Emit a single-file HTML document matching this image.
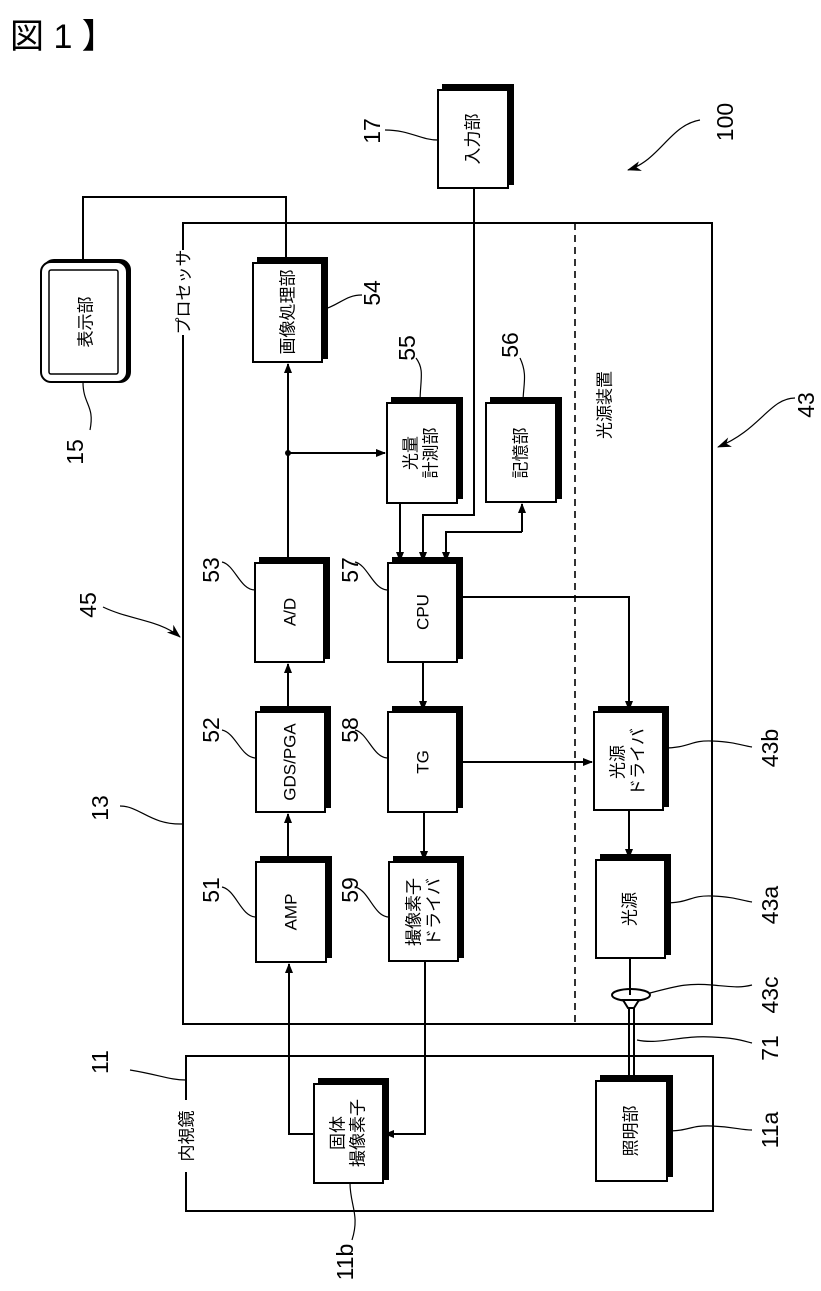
<!DOCTYPE html>
<html><head><meta charset="utf-8"><style>
html,body{margin:0;padding:0;background:#fff;}
svg{display:block;}
text{font-family:"Liberation Sans","Noto Sans CJK JP",sans-serif;fill:#000;}
.b{font-size:17px;}
.n{font-size:23px;}
</style></head><body>
<svg width="821" height="1291" viewBox="0 0 821 1291" xmlns="http://www.w3.org/2000/svg">
<defs>
<marker id="a" markerWidth="10" markerHeight="10" refX="9" refY="5" orient="auto" markerUnits="userSpaceOnUse">
<path d="M0,1 L10,5 L0,9 Z" fill="#000"/></marker>
<marker id="c" markerWidth="14" markerHeight="10" refX="13" refY="5" orient="auto" markerUnits="userSpaceOnUse">
<path d="M0,0 L14,5 L0,10 L4,5 Z" fill="#000"/></marker>
</defs>
<text x="10" y="48" style="font-size:34px">図 1 】</text>

<g fill="none" stroke="#000" stroke-width="2">
<path d="M183,250 L183,223 L712,223 L712,1024 L183,1024 L183,335"/>
<line x1="575" y1="223" x2="575" y2="1024" stroke-dasharray="7,5" stroke-width="1.6"/>
<path d="M186,1100 L186,1056 L713,1056 L713,1211 L186,1211 L186,1172"/>
</g>

<g stroke="#000" stroke-width="2">
<rect x="258" y="258" width="69" height="100" fill="#000"/><rect x="253" y="263" width="69" height="99" fill="#fff"/>
<rect x="260" y="558" width="69" height="100" fill="#000"/><rect x="255" y="563" width="69" height="99" fill="#fff"/>
<rect x="261" y="707" width="69" height="100" fill="#000"/><rect x="256" y="712" width="69" height="100" fill="#fff"/>
<rect x="261" y="857" width="70" height="100" fill="#000"/><rect x="256" y="862" width="70" height="100" fill="#fff"/>
<rect x="393" y="558" width="69" height="100" fill="#000"/><rect x="388" y="563" width="69" height="99" fill="#fff"/>
<rect x="393" y="707" width="69" height="100" fill="#000"/><rect x="388" y="712" width="69" height="100" fill="#fff"/>
<rect x="394" y="857" width="69" height="100" fill="#000"/><rect x="389" y="862" width="69" height="99" fill="#fff"/>
<rect x="392" y="398" width="70" height="100" fill="#000"/><rect x="387" y="403" width="70" height="100" fill="#fff"/>
<rect x="491" y="398" width="70" height="100" fill="#000"/><rect x="486" y="403" width="70" height="99" fill="#fff"/>
<rect x="443" y="85" width="70" height="99" fill="#000"/><rect x="438" y="90" width="70" height="98" fill="#fff"/>
<rect x="599" y="707" width="69" height="99" fill="#000"/><rect x="594" y="712" width="69" height="98" fill="#fff"/>
<rect x="601" y="855" width="69" height="99" fill="#000"/><rect x="596" y="860" width="69" height="98" fill="#fff"/>
<rect x="319" y="1079" width="69" height="100" fill="#000"/><rect x="314" y="1084" width="69" height="99" fill="#fff"/>
<rect x="601" y="1076" width="71" height="100" fill="#000"/><rect x="596" y="1081" width="71" height="100" fill="#fff"/>
<rect x="44" y="260" width="86" height="122" rx="10" fill="#000"/>
<rect x="41" y="262" width="86" height="120" rx="10" fill="#fff"/>
<rect x="49" y="270" width="69" height="104" rx="2" fill="none" stroke-width="1.5"/>
</g>

<g fill="none" stroke="#000" stroke-width="2">
<path d="M83,262 L83,197 L286,197 L286,263"/>
<line x1="288" y1="862" x2="288" y2="814" marker-end="url(#a)"/>
<line x1="288" y1="712" x2="288" y2="664" marker-end="url(#a)"/>
<line x1="288" y1="563" x2="288" y2="364" marker-end="url(#a)"/>
<line x1="288" y1="453" x2="385" y2="453" marker-end="url(#a)"/>
<line x1="423" y1="662" x2="423" y2="710" marker-end="url(#a)"/>
<line x1="424" y1="812" x2="424" y2="860" marker-end="url(#a)"/>
<line x1="400" y1="503" x2="400" y2="561" marker-end="url(#a)"/>
<path d="M474,188 L474,515 L423,515 L423,561" marker-end="url(#a)"/>
<path d="M522,532 L446,532 L446,561" marker-end="url(#a)"/>
<line x1="522" y1="532" x2="522" y2="504" marker-end="url(#a)"/>
<path d="M457,597 L629,597 L629,710" marker-end="url(#a)"/>
<line x1="457" y1="762" x2="592" y2="762" marker-end="url(#a)"/>
<line x1="629" y1="810" x2="629" y2="858" marker-end="url(#a)"/>
<line x1="630" y1="958" x2="630" y2="995"/>
<path d="M314,1134 L289,1134 L289,964" marker-end="url(#a)"/>
<path d="M425,961 L425,1134 L385,1134" marker-end="url(#a)"/>
</g>
<circle cx="288" cy="453" r="3" fill="#000"/>
<g fill="none" stroke="#000" stroke-width="2">
<ellipse cx="631" cy="995" rx="19" ry="6"/>
<path d="M623,1000 L639,1000 L634,1008 L628,1008 Z" fill="#fff"/>
<line x1="629" y1="1008" x2="629" y2="1081"/>
<line x1="634" y1="1008" x2="634" y2="1081"/>
</g>

<g fill="none" stroke="#000" stroke-width="1.2">
<path d="M83,382 C83,405 95,405 90,430"/>
<path d="M322,310 C340,305 345,295 362,295"/>
<path d="M420,403 C420,380 425,370 416,358"/>
<path d="M523,403 C523,385 528,375 520,358"/>
<path d="M438,140 C420,140 410,130 385,130"/>
<path d="M255,590 C240,590 235,565 222,562"/>
<path d="M388,590 C373,590 368,565 355,562"/>
<path d="M256,758 C241,758 236,733 222,730"/>
<path d="M388,758 C373,758 368,733 355,730"/>
<path d="M256,917 C241,917 236,890 222,887"/>
<path d="M389,917 C374,917 369,890 355,887"/>
<path d="M120,806 C140,806 150,825 183,824"/>
<path d="M103,607 C130,620 160,620 180,637" marker-end="url(#c)"/>
<path d="M700,120 C670,125 660,160 628,170" marker-end="url(#c)"/>
<path d="M795,398 C770,398 760,430 718,447" marker-end="url(#c)"/>
<path d="M663,748 C690,748 690,740 712,741 C735,742 740,745 752,747"/>
<path d="M665,903 C690,903 690,895 712,896 C735,897 740,900 752,902"/>
<path d="M650,993 C680,985 690,983 712,985 C735,987 740,988 752,985"/>
<path d="M637,1040 C660,1045 680,1035 712,1037 C735,1038 740,1040 752,1043"/>
<path d="M667,1131 C690,1131 690,1125 712,1126 C735,1127 740,1130 752,1130"/>
<path d="M350,1183 C350,1205 360,1215 352,1240"/>
<path d="M186,1080 C170,1080 160,1075 130,1070"/>
</g>

<g class="b" text-anchor="middle" dominant-baseline="central">
<text transform="translate(86,322) rotate(-90)">表示部</text>
<text transform="translate(288,312) rotate(-90)">画像処理部</text>
<text transform="translate(473,139) rotate(-90)">入力部</text>
<text transform="translate(290,612) rotate(-90)">A/D</text>
<text transform="translate(290,762) rotate(-90)">GDS/PGA</text>
<text transform="translate(291,912) rotate(-90)">AMP</text>
<text transform="translate(423,612) rotate(-90)">CPU</text>
<text transform="translate(423,762) rotate(-90)">TG</text>
<text transform="translate(414,912) rotate(-90)">撮像素子</text>
<text transform="translate(434,912) rotate(-90)">ドライバ</text>
<text transform="translate(411,453) rotate(-90)">光量</text>
<text transform="translate(431,453) rotate(-90)">計測部</text>
<text transform="translate(521,453) rotate(-90)">記憶部</text>
<text transform="translate(618,762) rotate(-90)">光源</text>
<text transform="translate(638,762) rotate(-90)">ドライバ</text>
<text transform="translate(630,909) rotate(-90)">光源</text>
<text transform="translate(338,1133) rotate(-90)">固体</text>
<text transform="translate(358,1133) rotate(-90)">撮像素子</text>
<text transform="translate(631,1131) rotate(-90)">照明部</text>
<text transform="translate(184,292) rotate(-90)">プロセッサ</text>
<text transform="translate(605,405) rotate(-90)">光源装置</text>
<text transform="translate(187,1136) rotate(-90)">内視鏡</text>
</g>
<g class="n" text-anchor="middle" dominant-baseline="central">
<text transform="translate(725,122) rotate(-90)">100</text>
<text transform="translate(372,131) rotate(-90)">17</text>
<text transform="translate(75,452) rotate(-90)">15</text>
<text transform="translate(372,293) rotate(-90)">54</text>
<text transform="translate(407,348) rotate(-90)">55</text>
<text transform="translate(510,345) rotate(-90)">56</text>
<text transform="translate(806,405) rotate(-90)">43</text>
<text transform="translate(88,605) rotate(-90)">45</text>
<text transform="translate(211,570) rotate(-90)">53</text>
<text transform="translate(350,570) rotate(-90)">57</text>
<text transform="translate(211,730) rotate(-90)">52</text>
<text transform="translate(350,730) rotate(-90)">58</text>
<text transform="translate(211,890) rotate(-90)">51</text>
<text transform="translate(350,890) rotate(-90)">59</text>
<text transform="translate(100,808) rotate(-90)">13</text>
<text transform="translate(770,748) rotate(-90)">43b</text>
<text transform="translate(770,905) rotate(-90)">43a</text>
<text transform="translate(770,995) rotate(-90)">43c</text>
<text transform="translate(770,1048) rotate(-90)">71</text>
<text transform="translate(100,1062) rotate(-90)">11</text>
<text transform="translate(770,1130) rotate(-90)">11a</text>
<text transform="translate(345,1262) rotate(-90)">11b</text>
</g>
</svg>
</body></html>
